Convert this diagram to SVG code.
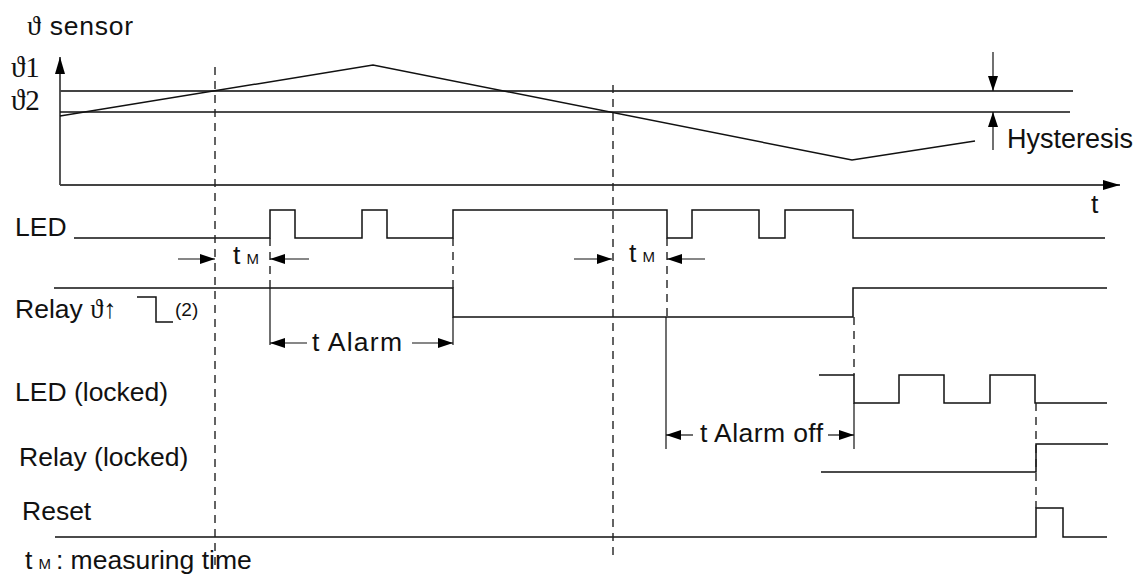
<svg xmlns="http://www.w3.org/2000/svg" width="1138" height="574" viewBox="0 0 1138 574">
<defs>
<style>
.t{font-family:"Liberation Sans",Arial,sans-serif;font-size:26.5px;fill:#111}
.sm{font-size:15px}
.s{font-family:"Liberation Serif","DejaVu Serif",serif}
.sig{fill:none;stroke:#111;stroke-width:1.5}
.dash{fill:none;stroke:#222;stroke-width:1.4;stroke-dasharray:8 6}
.ax{fill:none;stroke:#444;stroke-width:1.8}
.dim{fill:none;stroke:#111;stroke-width:1.2}
</style>
<marker id="ah" viewBox="0 0 15 10" refX="15" refY="5" markerWidth="15" markerHeight="10" markerUnits="userSpaceOnUse" orient="auto"><path d="M0,0 L15,5 L0,10 z" fill="#000"/></marker>
<marker id="ahb" viewBox="0 0 17 10" refX="17" refY="5" markerWidth="17" markerHeight="10" markerUnits="userSpaceOnUse" orient="auto"><path d="M0,0 L17,5 L0,10 z" fill="#000"/></marker>
</defs>
<rect width="1138" height="574" fill="#fff"/>

<g id="sensor-graph">
<line class="ax" x1="60" y1="185" x2="60" y2="57" marker-end="url(#ahb)"/>
<line class="ax" x1="60" y1="185" x2="1120" y2="185" marker-end="url(#ahb)"/>
<line class="ax" x1="60" y1="91" x2="1073" y2="91"/>
<line class="dim" x1="60" y1="112" x2="1070" y2="112" style="stroke-width:1.5"/>
<polyline class="sig" points="60,116 373,65 852,160 975,141"/>
<text class="t" x="27" y="35" textLength="106"><tspan class="s" style="font-size:28px">ϑ</tspan> sensor</text>
<text class="t s" x="11" y="77" style="font-size:29px">ϑ1</text>
<text class="t s" x="11" y="110" style="font-size:29px">ϑ2</text>
<text class="t" x="1091" y="213">t</text>
</g>

<g id="hysteresis">
<line class="dim" x1="993" y1="52" x2="993" y2="91" marker-end="url(#ah)"/>
<line class="dim" x1="993" y1="150" x2="993" y2="112" marker-end="url(#ah)"/>
<text class="t" x="1007" y="148" style="font-size:27px">Hysteresis</text>
</g>

<g id="led">
<text class="t" x="15" y="236">LED</text>
<path class="sig" d="M74,238 H270 V210 H295 V238 H362 V210 H387 V238 H453 V210 H667 V238 H692 V210 H759 V238 H785 V210 H853 V238 H1105"/>
</g>

<g id="relay">
<text class="t" x="15" y="318">Relay <tspan class="s">ϑ</tspan>↑</text>
<path class="sig" d="M137,297 H156 V322 H173"/>
<text class="t" x="175" y="316" style="font-size:19px">(2)</text>
<path class="sig" d="M54,288 H453 V317 H853 V288 H1107"/>
</g>

<g id="led-locked">
<text class="t" x="15" y="401">LED (locked)</text>
<path class="sig" d="M819,375 H854 V403 H899 V375 H944 V403 H990 V375 H1035 V403 H1107"/>
</g>

<g id="relay-locked">
<text class="t" x="19" y="466">Relay (locked)</text>
<path class="sig" d="M821,472 H1036 V444 H1108"/>
</g>

<g id="reset">
<text class="t" x="22" y="520">Reset</text>
<path class="sig" d="M55,537 H1036 V508 H1063 V537 H1107"/>
</g>

<g id="connectors">
<line class="dash" x1="215" y1="67" x2="215" y2="567"/>
<line class="dash" x1="613" y1="85" x2="613" y2="556"/>
<line class="dash" x1="270" y1="238" x2="270" y2="288"/>
<line class="dash" x1="453" y1="238" x2="453" y2="288"/>
<line class="dash" x1="667" y1="238" x2="667" y2="317"/>
<line class="dash" x1="854" y1="317" x2="854" y2="375"/>
<line class="dash" x1="1036" y1="403" x2="1036" y2="508"/>
<line class="dim" x1="270" y1="288" x2="270" y2="345"/>
<line class="dim" x1="453" y1="317" x2="453" y2="345"/>
<line class="dim" x1="307" y1="343" x2="270" y2="343" marker-end="url(#ah)"/>
<line class="dim" x1="412" y1="343" x2="453" y2="343" marker-end="url(#ah)"/>
<line class="dim" x1="666" y1="317" x2="666" y2="449"/>
<line class="dim" x1="854" y1="403" x2="854" y2="449"/>
<line class="dim" x1="693" y1="435" x2="666" y2="435" marker-end="url(#ah)"/>
<line class="dim" x1="828" y1="435" x2="854" y2="435" marker-end="url(#ah)"/>
<line class="dim" x1="178" y1="259" x2="215" y2="259" marker-end="url(#ah)"/>
<line class="dim" x1="309" y1="259" x2="270" y2="259" marker-end="url(#ah)"/>
<line class="dim" x1="574" y1="259" x2="612" y2="259" marker-end="url(#ah)"/>
<line class="dim" x1="705" y1="259" x2="667" y2="259" marker-end="url(#ah)"/>
</g>

<g id="labels">
<text class="t" x="233" y="264">t<tspan class="sm" dx="6">M</tspan></text>
<text class="t" x="629" y="262">t<tspan class="sm" dx="6">M</tspan></text>
<text class="t" x="312" y="351" textLength="90">t Alarm</text>
<text class="t" x="700" y="442" textLength="123">t Alarm off</text>
<text class="t" x="25" y="569">t<tspan class="sm" dx="6">M</tspan><tspan dx="5">: measuring time</tspan></text>
</g>
</svg>
